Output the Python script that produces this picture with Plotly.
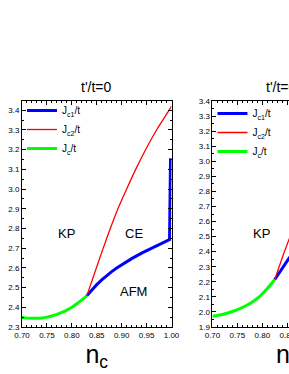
import plotly.graph_objects as go

# ---- data: t'/t = 0 (left panel) ----
n_c_left = [0.70, 0.71, 0.72, 0.73, 0.74, 0.75, 0.76, 0.77, 0.78, 0.79, 0.80, 0.81, 0.82, 0.83]
jc_left = [2.348, 2.345, 2.344, 2.344, 2.346, 2.350, 2.356, 2.364, 2.374, 2.386, 2.400, 2.418, 2.438, 2.458]

n_c2_left = [0.83, 0.85, 0.87, 0.89, 0.91, 0.93, 0.95, 0.97, 0.985, 1.0]
jc2_left = [2.458, 2.606, 2.75, 2.885, 3.0, 3.11, 3.21, 3.30, 3.36, 3.42]

n_c1_left = [0.83, 0.84, 0.85, 0.86, 0.87, 0.88, 0.89, 0.90, 0.92, 0.94, 0.96, 0.98, 0.996, 0.998]
jc1_left = [2.458, 2.488, 2.515, 2.539, 2.561, 2.581, 2.599, 2.616, 2.647, 2.675, 2.700, 2.723, 2.744, 3.156]

# ---- data: right panel (partly visible) ----
n_c_right = [0.70, 0.72, 0.74, 0.755, 0.77, 0.785, 0.795, 0.81, 0.825]
jc_right = [1.971, 1.983, 2.003, 2.022, 2.046, 2.078, 2.104, 2.155, 2.215]

n_c2_right = [0.825, 0.84, 0.853, 0.87, 0.89]
jc2_right = [2.215, 2.36, 2.476, 2.62, 2.78]

n_c1_right = [0.825, 0.84, 0.853, 0.87, 0.89]
jc1_right = [2.215, 2.29, 2.354, 2.43, 2.51]

x_ticks = [0.70, 0.75, 0.80, 0.85, 0.90, 0.95, 1.00]
panel_titles = ["t'/t=0", "t'/t=0.1"]
names = ["J<sub>c1</sub>/t", "J<sub>c2</sub>/t", "J<sub>c</sub>/t"]

BLUE, RED, GREEN = "#0000ff", "#ff0000", "#00ff00"
FONT = "Liberation Sans, Arial, sans-serif"

W, H = 400, 374
ML, MR, MT, MB = 22, 37.6, 100.7, 47.3
plot_w = W - ML - MR
plot_h = H - MT - MB
dom1 = [0, 149.7 / plot_w]
dom2 = [190.7 / plot_w, 1]

fig = go.Figure()

def add_panel(xa, ya, legend, nc1, j1, nc2, j2, nc, j):
    fig.add_trace(go.Scatter(x=nc1, y=j1, mode="lines", name=names[0],
                             line=dict(color=BLUE, width=3), xaxis=xa, yaxis=ya, legend=legend))
    fig.add_trace(go.Scatter(x=nc2, y=j2, mode="lines", name=names[1],
                             line=dict(color=RED, width=1.3, shape="spline", smoothing=0.8),
                             xaxis=xa, yaxis=ya, legend=legend))
    fig.add_trace(go.Scatter(x=nc, y=j, mode="lines", name=names[2],
                             line=dict(color=GREEN, width=3, shape="spline", smoothing=0.8),
                             xaxis=xa, yaxis=ya, legend=legend))

add_panel("x", "y", "legend", n_c1_left, jc1_left, n_c2_left, jc2_left, n_c_left, jc_left)
add_panel("x2", "y2", "legend2", n_c1_right, jc1_right, n_c2_right, jc2_right, n_c_right, jc_right)

axis_common = dict(showline=True, linecolor="black", linewidth=1, mirror="ticks",
                   ticks="inside", ticklen=4, tickcolor="black", tickwidth=1,
                   showgrid=False, zeroline=False,
                   tickfont=dict(family=FONT, size=8, color="black"))

xcommon = dict(axis_common, range=[0.70, 1.00], tickvals=x_ticks,
               ticktext=[f"{v:.2f}" for v in x_ticks],
               minor=dict(dtick=0.01, ticks="inside", ticklen=2, tickcolor="black", showgrid=False),
               title=dict(text="n<sub>c</sub>", font=dict(family=FONT, size=25, color="black"), standoff=2))

fig.update_layout(
    width=W, height=H,
    margin=dict(l=ML, r=MR, t=MT, b=MB, autoexpand=False),
    paper_bgcolor="white", plot_bgcolor="white",
    font=dict(family=FONT, color="black"),
    xaxis=dict(xcommon, domain=dom1, anchor="y"),
    xaxis2=dict(xcommon, domain=dom2, anchor="y2"),
    yaxis=dict(axis_common, range=[2.3, 3.447], dtick=0.1, tickformat=".1f", anchor="x",
               minor=dict(dtick=0.05, ticks="inside", ticklen=2, tickcolor="black", showgrid=False)),
    yaxis2=dict(axis_common, range=[1.9, 3.4], dtick=0.1, tickformat=".1f", anchor="x2",
                minor=dict(dtick=0.05, ticks="inside", ticklen=2, tickcolor="black", showgrid=False)),
    legend=dict(x=0.0, y=1 + 5 / plot_h, xanchor="left", yanchor="top", bgcolor="rgba(0,0,0,0)",
                font=dict(family=FONT, size=10), tracegroupgap=0),
    legend2=dict(x=dom2[0], y=1 + 2 / plot_h, xanchor="left", yanchor="top", bgcolor="rgba(0,0,0,0)",
                 font=dict(family=FONT, size=10), tracegroupgap=0),
    showlegend=True,
)

ann_font = dict(family=FONT, size=13, color="black")
fig.add_annotation(x=0.79, y=2.775, xref="x", yref="y", text="KP", showarrow=False, font=ann_font)
fig.add_annotation(x=0.925, y=2.775, xref="x", yref="y", text="CE", showarrow=False, font=ann_font)
fig.add_annotation(x=0.923, y=2.48, xref="x", yref="y", text="AFM", showarrow=False, font=ann_font)
fig.add_annotation(x=0.798, y=2.52, xref="x2", yref="y2", text="KP", showarrow=False, font=ann_font)

for dom, t in zip([dom1, dom2], panel_titles):
    fig.add_annotation(x=(dom[0] + dom[1]) / 2, y=1 + 13.7 / plot_h, xref="paper", yref="paper",
                       text=t, showarrow=False, font=dict(family=FONT, size=14, color="black"),
                       xanchor="center", yanchor="middle")

fig.write_html("out.html", config={"displayModeBar": False}, post_script=(
    "document.body.style.margin='0';"
    "document.body.style.overflow='hidden';"
    "document.documentElement.style.overflow='hidden';"))
